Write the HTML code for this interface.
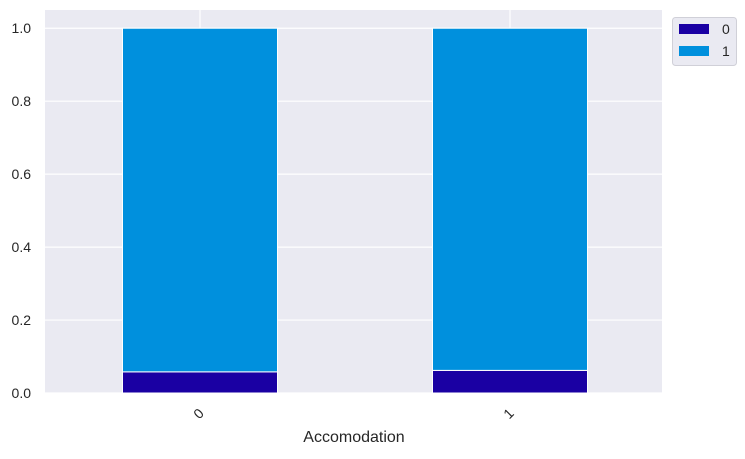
<!DOCTYPE html>
<html><head><meta charset="utf-8"><style>
body{margin:0;background:#fff;}
svg text{font-family:"Liberation Sans","DejaVu Sans",sans-serif;fill:#262626;}
</style></head><body>
<svg id="chart" width="745" height="454" xmlns="http://www.w3.org/2000/svg"></svg>
<script>
const categories = ["0","1"];
const series0 = [0.058, 0.062];
const series1 = [0.942, 0.938];
const yTicks = [0.0,0.2,0.4,0.6,0.8,1.0];
const seriesNames = ["0","1"];
const colors = ["#1a00a3","#0090dd"];

const NS="http://www.w3.org/2000/svg";
const svg=document.getElementById('chart');
const L=45,R=662,T=10,B=393;
const XL=45,XR=665;
const yMax=1.05;
const y=v=>B-(v/yMax)*(B-T);
const step=(XR-XL)/categories.length;
const xc=i=>XL+step*(i+0.5);
const bw=step*0.5;
function mk(tag,attrs,parent){const e=document.createElementNS(NS,tag);for(const k in attrs)e.setAttribute(k,attrs[k]);(parent||svg).appendChild(e);return e;}

const bg=mk('rect',{x:L,y:T,width:R-L,height:B-T,fill:'#eaeaf2'});


yTicks.forEach(t=>{
  const g=mk('line',{x1:L,x2:R,y1:y(t),y2:y(t),stroke:'#fff','stroke-width':1.2});
  
  
  const tx=mk('text',{x:L-14,y:y(t)+5,'text-anchor':'end','font-size':14});
  tx.textContent=t.toFixed(1);
  
  
});
categories.forEach((c,i)=>{
  const g=mk('line',{x1:xc(i),x2:xc(i),y1:T,y2:B,stroke:'#fff','stroke-width':1.2});
  
  
});
categories.forEach((c,i)=>{
  const x0=xc(i)-bw/2;
  const b0=mk('rect',{x:x0,y:y(series0[i]),width:bw,height:y(0)-y(series0[i]),fill:colors[0],stroke:'#fff','stroke-width':1});
  
  
  const top=series0[i]+series1[i];
  const b1=mk('rect',{x:x0,y:y(top),width:bw,height:y(series0[i])-y(top),fill:colors[1],stroke:'#fff','stroke-width':1});
  
  
  const tl=mk('text',{x:0,y:0,'text-anchor':'middle','font-size':14,transform:`translate(${xc(i)+2},${B+24}) rotate(-45)`});
  tl.textContent=c;
  
  
});
const xt=mk('text',{x:354,y:442,'text-anchor':'middle','font-size':16});
xt.textContent='Accomodation';



const lg=mk('g',{});


mk('rect',{x:672.5,y:17.5,width:64,height:48,rx:3,fill:'#eaeaf2',stroke:'#d0d0d8'},lg);
seriesNames.forEach((n,i)=>{
  const ent=mk('g',{},lg);
  
  
  mk('rect',{x:679,y:24+i*22,width:30,height:10,fill:colors[i]},ent);
  const t=mk('text',{x:722,y:34+i*22,'font-size':14},ent);
  t.textContent=n;
});
</script>
</body></html>
